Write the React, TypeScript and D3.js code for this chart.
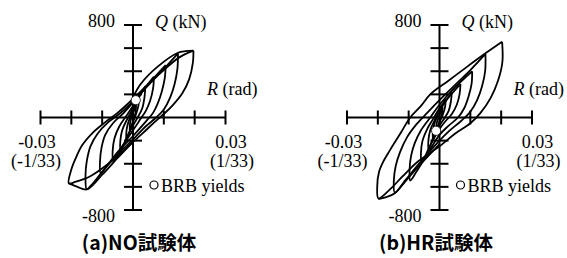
import React from "react";
import * as d3 from "d3";

type Pt = [number, number];

// R (rad), Q (kN), NO specimen
const noLoop0: Pt[] = [[0.001, 110], [0.0008, 40], [0, -30], [-0.001, -120], [-0.0009, -40], [0, 40], [0.001, 110]];
const noLoop1: Pt[] = [[0.002, 190], [0.0018, 110], [0.001, 30], [0, -40], [-0.001, -110], [-0.002, -190], [-0.0021, -110], [-0.0015, -40], [0, 60], [0.001, 120], [0.002, 190]];
const noLoop2: Pt[] = [[0.004, 270], [0.0037, 170], [0.003, 80], [0.0015, 0], [0, -70], [-0.002, -170], [-0.004, -290], [-0.0041, -200], [-0.0035, -110], [-0.002, -20], [0, 80], [0.002, 180], [0.004, 270]];
const noLoop3: Pt[] = [[0.0068, 353], [0.0065, 250], [0.0055, 140], [0.0042, 60], [0.002, -30], [0, -110], [-0.004, -270], [-0.0064, -380], [-0.0066, -290], [-0.006, -180], [-0.0045, -80], [-0.002, 20], [0, 100], [0.0035, 240], [0.0068, 353]];
const noLoop4: Pt[] = [[0.0106, 454], [0.0103, 340], [0.0093, 220], [0.008, 120], [0.0065, 40], [0.004, -40], [0, -160], [-0.005, -300], [-0.0085, -420], [-0.0105, -480], [-0.0107, -380], [-0.0102, -260], [-0.009, -150], [-0.0065, -50], [-0.003, 40], [0, 130], [0.005, 290], [0.0106, 454]];
const noLoop5: Pt[] = [[0.0146, 555], [0.0144, 420], [0.0135, 290], [0.012, 170], [0.01, 70], [0.0075, 0], [0.004, -80], [0, -190], [-0.005, -320], [-0.01, -470], [-0.0135, -585], [-0.015, -620], [-0.0154, -500], [-0.015, -380], [-0.0138, -250], [-0.0115, -140], [-0.008, -40], [-0.004, 40], [0, 140], [0.005, 280], [0.01, 420], [0.0146, 555]];
const noLoop6: Pt[] = [[0.0196, 578], [0.0194, 470], [0.0182, 330], [0.016, 210], [0.013, 110], [0.01, 30], [0.007, -40], [0.003, -140], [-0.002, -260], [-0.008, -400], [-0.014, -510], [-0.0185, -555], [-0.0208, -570], [-0.02, -450], [-0.0186, -353], [-0.0165, -240], [-0.013, -130], [-0.009, -40], [-0.005, 40], [0, 160], [0.005, 290], [0.01, 410], [0.015, 520], [0.0196, 578]];
const noEnvPos: Pt[] = [[0, 175], [0.0025, 290], [0.008, 440], [0.0146, 560], [0.017, 574], [0.0196, 578]];
const noEnvNeg: Pt[] = [[0, -210], [-0.005, -350], [-0.01, -495], [-0.015, -622], [-0.018, -600], [-0.0208, -570]];
const noYield: Pt = [0.0009, 150];

// HR specimen
const hrLoop0: Pt[] = [[0.001, 90], [0.0008, 30], [0, -40], [-0.001, -120], [-0.0009, -50], [0, 20], [0.001, 90]];
const hrLoop1: Pt[] = [[0.002, 160], [0.0018, 90], [0.001, 20], [0, -40], [-0.001, -110], [-0.002, -190], [-0.0021, -110], [-0.0015, -40], [0, 50], [0.001, 110], [0.002, 160]];
const hrLoop2: Pt[] = [[0.004, 220], [0.0037, 140], [0.003, 60], [0.0015, -10], [0, -70], [-0.002, -170], [-0.0035, -280], [-0.0036, -200], [-0.003, -110], [-0.0015, -20], [0, 60], [0.002, 140], [0.004, 220]];
const hrLoop3: Pt[] = [[0.0068, 290], [0.0065, 200], [0.0056, 110], [0.004, 30], [0.002, -30], [0, -100], [-0.003, -240], [-0.0058, -390], [-0.006, -300], [-0.0055, -200], [-0.004, -100], [-0.002, -10], [0, 80], [0.0035, 190], [0.0068, 290]];
const hrLoop4: Pt[] = [[0.0106, 400], [0.0104, 290], [0.0094, 180], [0.008, 80], [0.006, 0], [0.003, -70], [0, -150], [-0.004, -320], [-0.0075, -470], [-0.0095, -545], [-0.0097, -450], [-0.0092, -330], [-0.008, -220], [-0.006, -110], [-0.003, 0], [0, 110], [0.005, 260], [0.0106, 400]];
const hrLoop5: Pt[] = [[0.0149, 550], [0.0148, 400], [0.0138, 270], [0.0122, 150], [0.01, 50], [0.007, -30], [0.003, -120], [0, -200], [-0.006, -380], [-0.011, -540], [-0.0145, -650], [-0.0148, -540], [-0.0142, -420], [-0.0128, -300], [-0.0105, -170], [-0.0075, -60], [-0.004, 40], [0, 150], [0.005, 280], [0.01, 410], [0.0149, 550]];
const hrLoop6: Pt[] = [[0.0203, 655], [0.0204, 480], [0.019, 320], [0.0166, 170], [0.0133, 40], [0.01, -50], [0.005, -140], [0, -250], [-0.007, -380], [-0.012, -510], [-0.016, -620], [-0.0198, -700], [-0.0202, -600], [-0.0196, -470], [-0.018, -370], [-0.016, -280], [-0.0125, -130], [-0.0095, 0], [-0.006, 100], [-0.003, 200], [0.003, 320], [0.009, 440], [0.0149, 555], [0.0203, 655]];
const hrEnvNeg: Pt[] = [[0, -230], [-0.006, -400], [-0.011, -550], [-0.0145, -655], [-0.0175, -690], [-0.0198, -705]];
const hrYield: Pt = [-0.0011, -115];

const xTicks = [-0.03, -0.02, -0.01, 0.01, 0.02, 0.03];
const yTicks = [-800, -600, -400, -200, 200, 400, 600, 800];

const serif: React.CSSProperties = {
  fontFamily: "'Liberation Serif', 'DejaVu Serif', serif",
  fontSize: 18,
};
const titleStyle: React.CSSProperties = {
  fontFamily: "'Noto Sans CJK JP', 'Noto Sans', sans-serif",
  fontWeight: 700,
  fontSize: 19.5,
};

interface PanelProps {
  cx: number;
  loops: Pt[][];
  yieldPt: Pt;
  title: string;
  titleX: number;
}

const Panel: React.FC<PanelProps> = ({ cx, loops, yieldPt, title, titleX }) => {
  const x = d3.scaleLinear().domain([-0.03, 0.03]).range([cx - 92.5, cx + 92.5]);
  const y = d3.scaleLinear().domain([-800, 800]).range([210, 25]);
  const line = d3
    .line<Pt>()
    .x((d) => x(d[0]))
    .y((d) => y(d[1]))
    .curve(d3.curveCatmullRom.alpha(0.5));
  const x0 = x(0);
  const y0 = y(0);

  return (
    <g>
      {loops.map((l, i) => (
        <path key={i} d={line(l) || ""} fill="none" stroke="#000" strokeWidth={1.8} strokeLinejoin="round" />
      ))}
      {/* axes */}
      <line x1={x(-0.03)} x2={x(0.03)} y1={y0} y2={y0} stroke="#000" strokeWidth={2} />
      <line x1={x0} x2={x0} y1={y(-800)} y2={y(800)} stroke="#000" strokeWidth={2} />
      {xTicks.map((t) => (
        <line key={t} x1={x(t)} x2={x(t)} y1={y0 - 7} y2={y0 + 7} stroke="#000" strokeWidth={2} />
      ))}
      {yTicks.map((t) => (
        <line key={t} x1={x0 - 9} x2={x0 + 9} y1={y(t)} y2={y(t)} stroke="#000" strokeWidth={2} />
      ))}
      <circle cx={x(yieldPt[0])} cy={y(yieldPt[1])} r={4.6} fill="#fff" stroke="#000" strokeWidth={0.8} />

      <text style={serif} x={x0 - 18} y={27} textAnchor="end">800</text>
      <text style={serif} x={x0 - 18} y={222} textAnchor="end">-800</text>
      <text style={serif} x={x0 + 22} y={28}>
        <tspan fontStyle="italic">Q</tspan> (kN)
      </text>
      <text style={serif} x={x0 + 74} y={95}>
        <tspan fontStyle="italic">R</tspan> (rad)
      </text>
      <text style={serif} x={x0 - 96} y={148} textAnchor="middle">-0.03</text>
      <text style={serif} x={x0 - 97} y={167} textAnchor="middle">(-1/33)</text>
      <text style={serif} x={x0 + 98} y={148} textAnchor="middle">0.03</text>
      <text style={serif} x={x0 + 99} y={167} textAnchor="middle">(1/33)</text>
      <text style={serif} x={x0 + 28} y={192}>BRB yields</text>
      <circle cx={x0 + 21} cy={185} r={4} fill="#fff" stroke="#000" strokeWidth={1.2} />

      <text style={titleStyle} x={titleX} y={250} textAnchor="middle" fill="#000">
        {title}
      </text>
    </g>
  );
};

export default function App() {
  return (
    <svg
      width={567}
      height={258}
      style={{ position: "absolute", left: 0, top: 0, background: "#fff" }}
    >
      <rect width={567} height={258} fill="#fff" />
      <Panel
        cx={133}
        loops={[noLoop0, noLoop1, noLoop2, noLoop3, noLoop4, noLoop5, noLoop6, noEnvPos, noEnvNeg]}
        yieldPt={noYield}
        title="(a)NO試験体"
        titleX={139}
      />
      <Panel
        cx={439.5}
        loops={[hrLoop0, hrLoop1, hrLoop2, hrLoop3, hrLoop4, hrLoop5, hrLoop6, hrEnvNeg]}
        yieldPt={hrYield}
        title="(b)HR試験体"
        titleX={436}
      />
    </svg>
  );
}
